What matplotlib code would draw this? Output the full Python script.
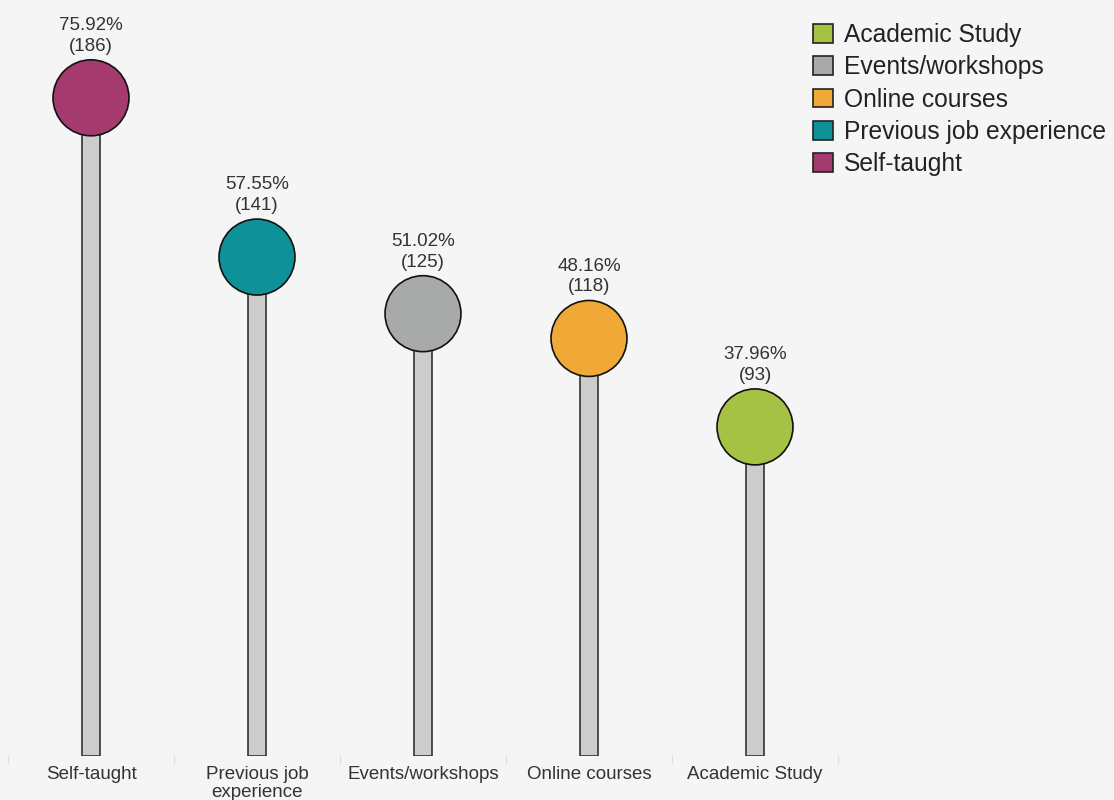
import matplotlib
matplotlib.use("Agg")
import matplotlib.pyplot as plt
from matplotlib.patches import Patch

plt.rcParams["font.family"] = ["Liberation Sans", "DejaVu Sans"]

categories = ["Self-taught", "Previous job\nexperience", "Events/workshops", "Online courses", "Academic Study"]
legend_names = ["Self-taught", "Previous job experience", "Events/workshops", "Online courses", "Academic Study"]
percents = [75.92, 57.55, 51.02, 48.16, 37.96]
counts = [186, 141, 125, 118, 93]
colors = ["#a53a6f", "#0f9198", "#a7aaa9", "#f0a936", "#a6c244"]

bg = "#f5f5f5"
fig = plt.figure(figsize=(11.14, 8), dpi=100, facecolor=bg)
ax = fig.add_axes([8 / 1114, 44 / 800, 830 / 1114, 756 / 800])
ax.set_facecolor(bg)

x = list(range(len(categories)))
ax.bar(x, percents, width=0.108, color="#cccccc", edgecolor="#333333", linewidth=1.2, zorder=2)
ax.scatter(x, percents, s=2990, c=colors, edgecolors="#111111", linewidths=1.2, zorder=3)

for xi, p, n in zip(x, percents, counts):
    ax.annotate(f"{p:.2f}%\n({n})", (xi, p), xytext=(0, 31), textcoords="offset points",
                ha="center", va="bottom", fontsize=13.5, color="#333333", linespacing=1.3)

ax.set_xlim(-0.5, len(categories) - 0.5)
ax.set_ylim(0, 87.2)
for s in ax.spines.values():
    s.set_visible(False)
ax.axhline(0, color="#cccccc", linestyle=(0, (2, 1)), linewidth=0.8, zorder=1)
ax.set_yticks([])
ax.set_xticks(x)
ax.set_xticklabels(categories, fontsize=13.5, color="#333333", linespacing=1.1)
ax.tick_params(axis="x", length=0, pad=7)
for b in [i - 0.5 for i in range(len(categories) + 1)]:
    ax.plot([b, b], [0, -0.8], color="#dddddd", linewidth=0.8, clip_on=False)

order = sorted(range(len(legend_names)), key=lambda i: legend_names[i])
handles = [Patch(facecolor=colors[i], edgecolor="#222222", linewidth=1.2, label=legend_names[i]) for i in order]
fig.legend(handles=handles, loc="upper left", bbox_to_anchor=(808 / 1114, 1 - 18 / 800),
           frameon=False, fontsize=17.7, handlelength=0.8, handleheight=0.8, handletextpad=0.45,
           labelspacing=0.34, borderaxespad=0, borderpad=0.2, labelcolor="#222222")

fig.savefig("out.png", dpi=100, facecolor=bg)
